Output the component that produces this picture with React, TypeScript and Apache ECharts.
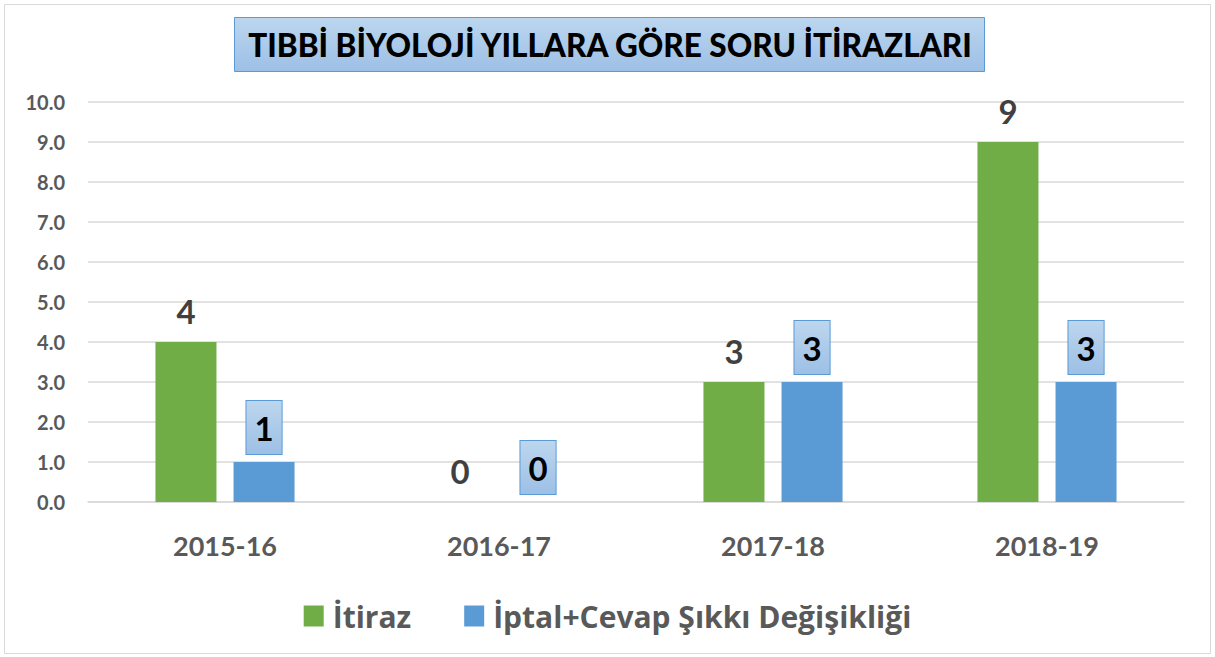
import React, { useEffect, useRef } from "react";
import * as echarts from "echarts";

const categories = ["2015-16", "2016-17", "2017-18", "2018-19"];
const itirazValues = [4, 0, 3, 9];
const iptalValues = [1, 0, 3, 3];
const seriesNames = ["İtiraz", "İptal+Cevap Şıkkı Değişikliği"];
const titleText = "TIBBİ BİYOLOJİ YILLARA GÖRE SORU İTİRAZLARI";

const FONT = "Lato, 'Open Sans', sans-serif";
const LEGEND_FONT = "'Open Sans', Lato, sans-serif";

export default function App() {
  const ref = useRef<HTMLDivElement>(null);
  useEffect(() => {
    const chart = echarts.init(ref.current!, null, { renderer: "svg" });
    const boxGrad = new echarts.graphic.LinearGradient(0, 0, 0, 1, [
      { offset: 0, color: "#bcd6ee" },
      { offset: 1, color: "#9dc0e6" },
    ]);
    chart.setOption({
      animation: false,
      backgroundColor: "#ffffff",
      graphic: [
        {
          type: "rect",
          shape: { x: 4.5, y: 4.5, width: 1206, height: 649 },
          style: { fill: "none", stroke: "#d9d9d9", lineWidth: 1 },
          z: 0,
        },
        {
          type: "rect",
          shape: { x: 234.5, y: 17.5, width: 750, height: 54 },
          style: { fill: boxGrad, stroke: "#5b9bd5", lineWidth: 1 },
          z: 10,
        },
        {
          type: "text",
          x: 610,
          y: 45,
          style: {
            text: titleText,
            font: `900 31.5px ${FONT}`,
            fill: "#000000",
            align: "center",
            verticalAlign: "middle",
          },
          z: 11,
        },
      ],
      legend: {
        top: 596,
        left: "center",
        itemWidth: 20,
        itemHeight: 21,
        itemGap: 53,
        icon: "rect",
        textStyle: {
          fontFamily: LEGEND_FONT,
          fontWeight: "bold",
          fontSize: 30,
          color: "#595959",
          padding: [0, 0, 0, 4],
        },
        data: seriesNames,
      },
      grid: { left: 88, right: 31, top: 102, bottom: 155 },
      xAxis: {
        type: "category",
        data: categories,
        axisLine: { lineStyle: { color: "#d9d9d9", width: 1.5 } },
        axisTick: { show: false },
        axisLabel: {
          margin: 30,
          fontFamily: FONT,
          fontWeight: "bold",
          fontSize: 27,
          color: "#595959",
        },
      },
      yAxis: {
        type: "value",
        min: 0,
        max: 10,
        interval: 1,
        axisLine: { show: false },
        axisTick: { show: false },
        splitLine: { lineStyle: { color: "#d9d9d9", width: 1.5 } },
        axisLabel: {
          margin: 23,
          formatter: (v: number) => v.toFixed(1),
          fontFamily: FONT,
          fontWeight: "bold",
          fontSize: 20,
          color: "#595959",
        },
      },
      series: [
        {
          name: seriesNames[0],
          type: "bar",
          data: itirazValues,
          barWidth: 61,
          barGap: "28%",
          itemStyle: { color: "#70ad47" },
          label: {
            show: true,
            position: "top",
            distance: 15,
            fontFamily: FONT,
            fontWeight: "bold",
            fontSize: 33,
            lineHeight: 33,
            color: "#404040",
          },
        },
        {
          name: seriesNames[1],
          type: "bar",
          data: iptalValues,
          barWidth: 61,
          itemStyle: { color: "#5b9bd5" },
          label: {
            show: true,
            position: "top",
            distance: 8,
            fontFamily: FONT,
            fontWeight: "bold",
            fontSize: 33,
            lineHeight: 33,
            color: "#000000",
            backgroundColor: boxGrad,
            borderColor: "#5b9bd5",
            borderWidth: 1,
            padding: [10, 8, 10, 8],
          },
        },
      ],
    });
    return () => chart.dispose();
  }, []);
  return (
    <div
      ref={ref}
      style={{ position: "absolute", left: 0, top: 0, width: 1215, height: 657 }}
    />
  );
}
